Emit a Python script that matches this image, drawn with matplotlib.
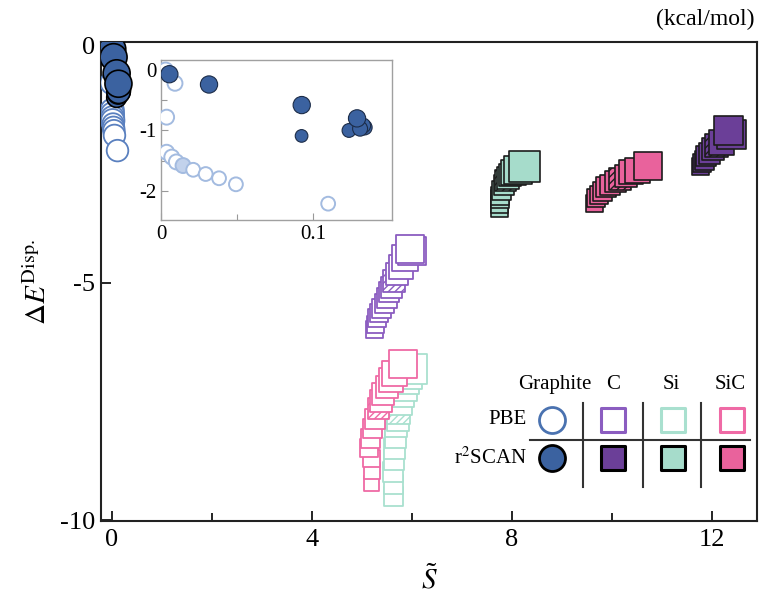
import matplotlib
matplotlib.use('Agg')
import matplotlib.pyplot as plt

plt.rcParams['font.family'] = ['Liberation Serif', 'DejaVu Serif']
plt.rcParams['mathtext.fontset'] = 'stix'
plt.rcParams['hatch.linewidth'] = 1.0

# ---------------- data ----------------
# Graphite (inset-scale marker diameters in px)
gr_pbe_x = [0.0030, 0.0092, 0.0037, 0.0037, 0.0071, 0.0101, 0.0145, 0.0212, 0.0294, 0.0382, 0.0493, 0.1100]
gr_pbe_y = [0.00, -0.22, -0.78, -1.36, -1.44, -1.52, -1.58, -1.65, -1.72, -1.79, -1.89, -2.21]
gr_pbe_d = [13, 13, 13, 13, 13, 13, 13, 12, 12, 12, 12, 12]

gr_r2_x = [0.0055, 0.0316, 0.0926, 0.0925, 0.1237, 0.1340, 0.1330, 0.1310, 0.1290]
gr_r2_y = [-0.07, -0.24, -0.58, -1.09, -1.00, -0.95, -0.92, -0.97, -0.80]
gr_r2_d = [15, 15, 15, 11, 12, 13, 13, 13, 15]

# C (diamond) PBE
C_pbe_x = [5.23, 5.25, 5.29, 5.33, 5.38, 5.43, 5.49, 5.53, 5.57, 5.63, 5.69, 5.77, 5.85, 6.00, 5.95]
C_pbe_y = [-5.97, -5.87, -5.75, -5.64, -5.53, -5.42, -5.31, -5.20, -5.09, -4.97, -4.82, -4.67, -4.47, -4.33, -4.28]
C_pbe_w = [17, 17, 18, 18, 19, 19, 20, 20, 21, 22, 23, 24, 26, 28, 28]

# Si PBE
Si_pbe_x = [5.62, 5.62, 5.61, 5.63, 5.63, 5.65, 5.67, 5.71, 5.73, 5.75, 5.79, 5.84, 5.87, 5.92, 5.99]
Si_pbe_y = [-9.49, -9.24, -8.98, -8.74, -8.48, -8.24, -8.02, -7.88, -7.73, -7.54, -7.37, -7.22, -7.07, -6.95, -6.81]
Si_pbe_w = [19, 19, 20, 20, 21, 21, 22, 22, 23, 24, 24, 25, 26, 27, 30]

# SiC PBE
SiC_pbe_x = [5.18, 5.19, 5.18, 5.14, 5.15, 5.20, 5.26, 5.32, 5.37, 5.41, 5.49, 5.57, 5.64, 5.81]
SiC_pbe_y = [-9.21, -8.96, -8.70, -8.48, -8.26, -8.05, -7.86, -7.64, -7.49, -7.35, -7.20, -7.05, -6.90, -6.70]
SiC_pbe_w = [15, 16, 17, 18, 19, 19, 20, 21, 22, 22, 23, 24, 25, 28]

# Si r2SCAN
Si_r2_x = [7.73, 7.73, 7.75, 7.76, 7.78, 7.83, 7.87, 7.91, 7.96, 8.02, 8.11, 8.24]
Si_r2_y = [-3.41, -3.33, -3.24, -3.16, -3.04, -2.93, -2.85, -2.78, -2.72, -2.66, -2.61, -2.53]
Si_r2_w = [17, 17, 18, 18, 19, 20, 21, 22, 23, 25, 27, 31]

# SiC r2SCAN
SiC_r2_x = [9.63, 9.67, 9.73, 9.80, 9.88, 9.96, 10.06, 10.16, 10.27, 10.38, 10.49, 10.71]
SiC_r2_y = [-3.31, -3.21, -3.14, -3.06, -2.98, -2.93, -2.86, -2.80, -2.74, -2.67, -2.62, -2.53]
SiC_r2_w = [17, 18, 18, 19, 20, 20, 21, 22, 23, 24, 25, 28]

# C r2SCAN
C_r2_x = [11.76, 11.79, 11.83, 11.88, 11.94, 12.01, 12.09, 12.18, 12.38, 12.32]
C_r2_y = [-2.54, -2.47, -2.40, -2.33, -2.25, -2.18, -2.11, -2.02, -1.86, -1.78]
C_r2_w = [17, 18, 19, 20, 21, 22, 23, 25, 29, 29]

x_ticks = [0, 4, 8, 12]
y_ticks = [0, -5, -10]
inset_x_ticks = [0, 0.1]
inset_y_ticks = [0, -1, -2]

# ---------------- styles ----------------
GR_FILL = '#3b62a0'
GR_OPEN_MAIN = '#5a80bf'
GR_OPEN_INSET = '#a3bbe0'
C_FILL, C_EDGE = '#6b3f98', '#8b5dc0'
SI_FILL, SI_EDGE = '#a6dccb', '#a9e0cf'
SIC_FILL, SIC_EDGE = '#e9629c', '#ef6aa5'


def pt(px):
    return px * 72.0 / 100.0


def squares(ax, xs, ys, ws, face, edge, lw, hatch_idx, z0):
    for i, (x, y, w) in enumerate(zip(xs, ys, ws)):
        ax.scatter([x], [y], s=pt(w) ** 2, marker='s', facecolor=face,
                   edgecolor=edge, linewidths=lw,
                   hatch='/////' if i == hatch_idx else None,
                   zorder=z0 + i * 0.01)


fig = plt.figure(figsize=(7.61, 5.94), dpi=100)
ax = fig.add_axes([101 / 761, 1 - 521 / 594, 656 / 761, 479 / 594])

# graphite in main axes
scale = 1.8
ax.scatter(gr_pbe_x, gr_pbe_y, s=[pt(d * scale) ** 2 for d in gr_pbe_d], marker='o',
           facecolor='white', edgecolor=GR_OPEN_MAIN, linewidths=1.3, zorder=3)
ax.scatter(gr_r2_x, gr_r2_y, s=[pt(d * scale) ** 2 for d in gr_r2_d], marker='o',
           facecolor=GR_FILL, edgecolor='black', linewidths=1.2, zorder=4)

# PBE open squares
squares(ax, C_pbe_x, C_pbe_y, C_pbe_w, 'white', C_EDGE, 1.3, 9, 3)
squares(ax, Si_pbe_x, Si_pbe_y, Si_pbe_w, 'white', SI_EDGE, 1.3, 8, 3)
squares(ax, SiC_pbe_x, SiC_pbe_y, SiC_pbe_w, 'white', SIC_EDGE, 1.3, 7, 4)
# r2SCAN filled squares
squares(ax, Si_r2_x, Si_r2_y, Si_r2_w, SI_FILL, '#1c1c1c', 1.2, 6, 3)
squares(ax, SiC_r2_x, SiC_r2_y, SiC_r2_w, SIC_FILL, '#1c1c1c', 1.2, 7, 3)
squares(ax, C_r2_x, C_r2_y, C_r2_w, C_FILL, '#1c1c1c', 1.2, 6, 3)

ax.set_xlim(-0.22, 12.9)
ax.set_ylim(-10.02, 0.08)
ax.set_xticks(x_ticks)
ax.set_xticks([2, 6, 10], minor=True)
ax.set_yticks(y_ticks)
ax.set_yticklabels([str(v) for v in y_ticks])
ax.tick_params(axis='both', which='both', direction='in', labelsize=19, width=1.2,
               top=False, right=False)
ax.tick_params(axis='both', which='major', length=7)
ax.tick_params(axis='both', which='minor', length=6)
ax.tick_params(axis='x', pad=6)
ax.tick_params(axis='y', pad=4)
for sp in ax.spines.values():
    sp.set_linewidth(1.5)
    sp.set_color('#222222')

ax.set_xlabel(r'$\tilde{S}$', fontsize=21, labelpad=10)
ax.set_ylabel(r'$\Delta E^{\mathrm{Disp.}}$', fontsize=21, labelpad=6)
fig.text(0.992, 0.968, '(kcal/mol)', ha='right', va='center', fontsize=17)

# ---------------- legend table ----------------
T = ax.transAxes
col_x = [0.6875, 0.780, 0.872, 0.962]
head_y, pbe_y, r2_y = 0.284, 0.211, 0.1315
for lab, cx in zip(['Graphite', 'C', 'Si', 'SiC'], [0.692, 0.780, 0.870, 0.959]):
    ax.text(cx, head_y, lab, transform=T, ha='center', va='center', fontsize=15)
ax.text(0.649, pbe_y, 'PBE', transform=T, ha='right', va='center', fontsize=15)
ax.text(0.649, r2_y, r'r$^2$SCAN', transform=T, ha='right', va='center', fontsize=15)
ax.scatter([col_x[0]], [pbe_y], s=pt(26) ** 2, marker='o', facecolor='white',
           edgecolor='#4a72b0', linewidths=2, transform=T, clip_on=False, zorder=6)
ax.scatter([col_x[0]], [r2_y], s=pt(26) ** 2, marker='o', facecolor=GR_FILL,
           edgecolor='black', linewidths=2, transform=T, clip_on=False, zorder=6)
for cx, fc, ec in zip(col_x[1:], [C_FILL, SI_FILL, SIC_FILL], [C_EDGE, SI_EDGE, SIC_EDGE]):
    ax.scatter([cx], [pbe_y], s=pt(24) ** 2, marker='s', facecolor='white',
               edgecolor=ec, linewidths=2.2, transform=T, clip_on=False, zorder=6)
    ax.scatter([cx], [r2_y], s=pt(24) ** 2, marker='s', facecolor=fc,
               edgecolor='black', linewidths=2.2, transform=T, clip_on=False, zorder=6)
ax.plot([0.654, 0.989], [0.169, 0.169], transform=T, color='#333333', lw=1.5, zorder=5)
for vx in [0.735, 0.826, 0.915]:
    ax.plot([vx, vx], [0.071, 0.246], transform=T, color='#333333', lw=1.5, zorder=5)

# ---------------- inset ----------------
iscale = 1.15
axi = fig.add_axes([161 / 761, 1 - 220 / 594, 231 / 761, 160 / 594])
axi.scatter(gr_pbe_x, gr_pbe_y, s=[pt(d * iscale) ** 2 for d in gr_pbe_d], marker='o',
            facecolor=['white'] * 6 + ['#c2d2ec'] + ['white'] * 5,
            edgecolor=GR_OPEN_INSET, linewidths=1.4, zorder=3)
axi.scatter(gr_r2_x, gr_r2_y, s=[pt(d * iscale) ** 2 for d in gr_r2_d], marker='o',
            facecolor=GR_FILL, edgecolor='#1c2c48', linewidths=0.8, zorder=4)
axi.set_xlim(0, 0.152)
axi.set_ylim(-2.48, 0.165)
axi.set_xticks(inset_x_ticks)
axi.set_xticklabels(['0', '0.1'])
axi.set_xticks([0.05], minor=True)
axi.set_yticks(inset_y_ticks)
axi.set_yticklabels([str(v) for v in inset_y_ticks])
axi.set_yticks([-0.5, -1.5], minor=True)
axi.tick_params(axis='both', which='both', direction='in', labelsize=15, color='#999999',
                width=0.8, top=False, right=False)
axi.tick_params(axis='both', which='major', length=5)
axi.tick_params(axis='both', which='minor', length=4)
for sp in axi.spines.values():
    sp.set_linewidth(1.0)
    sp.set_color('#a0a0a0')

fig.savefig('out.png', dpi=100)
